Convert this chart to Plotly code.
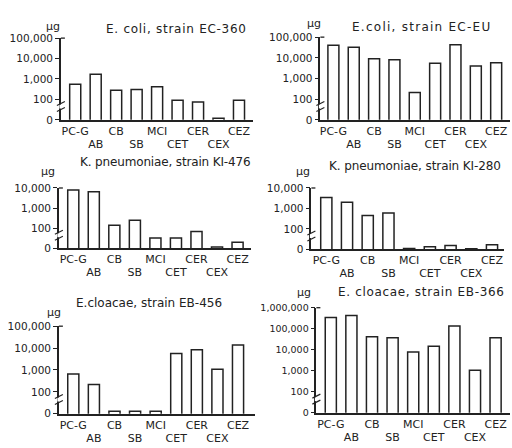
import plotly.graph_objects as go

# ---------------- data ----------------
categories = ["PC-G", "AB", "CB", "SB", "MCI", "CET", "CER", "CEX", "CEZ"]
ec360 = [550, 1700, 280, 310, 420, 90, 75, 12, 90]
ec_eu = [40000, 32000, 9000, 8000, 210, 5500, 43000, 4000, 5800]
ki476 = [8000, 6500, 140, 250, 33, 33, 69, 11.5, 20]
ki280 = [3400, 2000, 450, 600, 11, 13.5, 15.5, 10.5, 16.7]
eb456 = [650, 220, 13, 13, 13, 5600, 8500, 1070, 14000]
eb366 = [340000, 430000, 41000, 37000, 7900, 14500, 135000, 1070, 37000]
titles = [
    "E. coli, strain EC-360",
    "E.coli, strain EC-EU",
    "K. pneumoniae, strain KI-476",
    "K. pneumoniae, strain KI-280",
    "E.cloacae, strain EB-456",
    "E. cloacae, strain EB-366",
]
series = [ec360, ec_eu, ki476, ki280, eb456, eb366]
ytick_vals = [10, 100, 1000, 10000, 100000, 1000000]
ytick_text = ["0", "100", "1,000", "10,000", "100,000", "1,000,000"]
unit = "μg"

# ---------------- layout geometry (pixels) ----------------
W, H = 512, 448
# x0, x1, base_y, top_y, top_decade, xr0, xr1, title_x, title_y,
# unit_x, unit_y, title letter-spacing, y tick font size
geom = [
    (60, 252, 117, 33, 5, -0.70, 8.66, 176, 24, 52, 21, 0.73, 10.5),
    (320, 510, 117, 32, 5, -0.64, 8.68, 422, 22, 314, 18, 1.26, 10.5),
    (58, 250, 249, 187, 4, -0.70, 8.63, 165, 160, 47, 170, -0.15, 10.5),
    (311, 504, 250, 187, 4, -0.72, 8.58, 415, 164, 303, 170, -0.1, 10.5),
    (58, 254, 419, 329, 5, -0.70, 8.80, 148, 305, 53, 315, 0.0, 10.5),
    (316, 510, 418, 310, 6, -0.70, 8.70, 421, 294, 304, 294, 0.67, 9.5),
]

INK = "#222222"
FONT = "DejaVu Sans"


def ax(prefix, n):
    return prefix if n == 1 else f"{prefix}{n}"


fig = go.Figure()
layout = dict(
    width=W, height=H, margin=dict(l=0, r=0, t=0, b=0),
    paper_bgcolor="white", plot_bgcolor="white", showlegend=False,
    font=dict(family=FONT, color=INK),
)
annotations = []
shapes = []
idx = list(range(len(categories)))

for i, (vals, title, g) in enumerate(zip(series, titles, geom), start=1):
    x0, x1, by, ty, tdec, xr0, xr1, tx, tyy, ux, uy, ls, yfs = g
    xn, yn = ax("x", i), ax("y", i)
    xo = ax("x", i + 6)
    fig.add_trace(go.Bar(
        x=idx, y=vals, xaxis=xn, yaxis=yn, width=0.54,
        marker=dict(color="white", line=dict(color=INK, width=1.5)),
        hoverinfo="skip",
    ))
    even = [k for k in idx if k % 2 == 0]
    odd = [k for k in idx if k % 2 == 1]
    # invisible carrier so the second-row label axis is drawn
    fig.add_trace(go.Scatter(
        x=odd, y=[vals[k] for k in odd], xaxis=xo, yaxis=yn,
        mode="none", hoverinfo="skip",
    ))
    layout[f"xaxis{i}"] = dict(
        domain=[x0 / W, x1 / W], anchor=yn, range=[xr0, xr1],
        showline=True, linecolor=INK, linewidth=1.5, ticks="",
        showgrid=False, zeroline=False, tickmode="array",
        tickvals=even, ticktext=[categories[k] for k in even],
        tickfont=dict(size=11, family=FONT, color=INK),
        ticklabelstandoff=0,
    )
    layout[f"xaxis{i + 6}"] = dict(
        overlaying=xn, anchor=yn, side="bottom", range=[xr0, xr1],
        domain=[x0 / W, x1 / W],
        showline=False, ticks="", showgrid=False, zeroline=False,
        tickmode="array", tickvals=odd, ticktext=[categories[k] for k in odd],
        tickfont=dict(size=11, family=FONT, color=INK),
        ticklabelstandoff=16,
    )
    tv = [v for v in ytick_vals if v <= 10 ** tdec]
    tt = ytick_text[:len(tv)]
    layout[f"yaxis{i}"] = dict(
        domain=[1 - by / H, 1 - ty / H], anchor=xn, type="log",
        range=[1, tdec], showline=True, linecolor=INK, linewidth=1.5,
        ticks="outside", ticklen=4, tickcolor=INK, tickwidth=1.3,
        showgrid=False, zeroline=False, tickmode="array",
        tickvals=tv, ticktext=tt,
        tickfont=dict(size=yfs, family=FONT, color=INK),
    )
    annotations.append(dict(
        text=f"<span style='letter-spacing:{ls}px'>{title}</span>",
        x=tx / W, y=1 - tyy / H, xref="paper", yref="paper",
        xanchor="center", yanchor="middle", showarrow=False,
        font=dict(size=12, family=FONT, color=INK),
    ))
    annotations.append(dict(
        text=unit, x=ux / W, y=1 - uy / H, xref="paper", yref="paper",
        xanchor="center", yanchor="middle", showarrow=False,
        font=dict(size=11, family=FONT, color=INK),
    ))
    # axis-break mark between 0 and 100
    frac = 0.65 / (tdec - 1)
    common = dict(xref=f"{xn} domain", yref=f"{yn} domain",
                  xsizemode="pixel", ysizemode="pixel", xanchor=0, yanchor=frac)
    shapes.append(dict(type="line", x0=0, x1=0, y0=-2, y1=2,
                       line=dict(color="white", width=3), **common))
    shapes.append(dict(type="line", x0=-4, x1=4, y0=-5, y1=-1,
                       line=dict(color=INK, width=1.2), **common))
    shapes.append(dict(type="line", x0=-4, x1=4, y0=1, y1=5,
                       line=dict(color=INK, width=1.2), **common))
    # small hook at the top of the y axis
    shapes.append(dict(type="line", x0=0, x1=4, y0=0, y1=0,
                       xref=f"{xn} domain", yref=f"{yn} domain",
                       xsizemode="pixel", xanchor=0,
                       line=dict(color=INK, width=1.3)))
    shapes[-1].update(y0=1, y1=1)

layout["annotations"] = annotations
layout["shapes"] = shapes
fig.update_layout(**layout)
fig.write_html(
    "out.html",
    config={"displayModeBar": False},
    post_script="document.body.style.margin='0';document.body.style.padding='0';",
)
